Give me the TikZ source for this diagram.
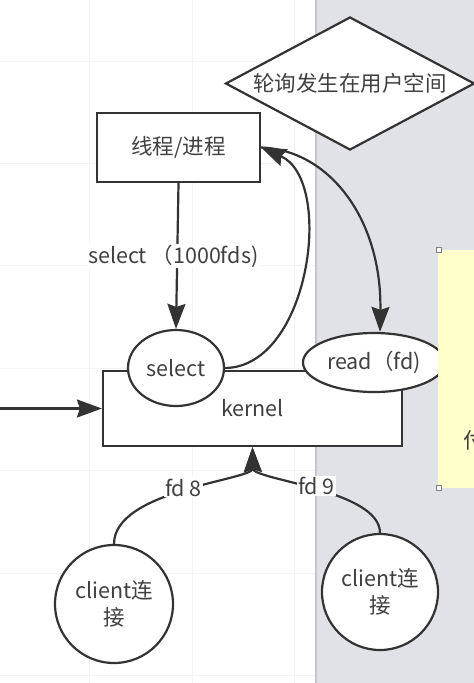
\documentclass[tikz,border=0pt]{standalone}
\usepackage{fontspec}
\setmainfont{Noto Sans CJK SC}
\usepackage{xcolor}
\usepackage{tikz}
\usetikzlibrary{shapes, shapes.geometric, arrows.meta, positioning}
\definecolor{inkgray}{RGB}{51,51,51}
\definecolor{textgray}{RGB}{64,64,64}
\definecolor{userspace}{RGB}{225,226,231}
\definecolor{notepaper}{RGB}{255,255,204}
\definecolor{gridline}{RGB}{244,244,244}

\begin{document}
\begin{tikzpicture}[x=1pt, y=-1pt,
  every node/.style={font=\fontsize{21.5}{27}\selectfont, text=textgray},
  box/.style={draw=inkgray, line width=2.2pt, fill=white},
  oval/.style={box, ellipse, inner sep=0pt},
  lbl/.style={fill=white, inner sep=1pt},
  conn/.style={draw=inkgray, line width=2.2pt, -{Stealth[length=25pt,width=18pt,inset=3pt]}}]
  \useasboundingbox (0,0) rectangle (474,683);
  \fill[white] (0,0) rectangle (474,683);
  \foreach \x in {89,192,294} {\draw[gridline] (\x,0) -- (\x,683);}
  \foreach \y in {61,163,265,368,470,573,675} {\draw[gridline] (0,\y) -- (315,\y);}
  \fill[userspace] (315,0) rectangle (474,683);
  \draw[userspace!88!black, line width=2pt] (316,0) -- (316,683);

  \node[box, diamond, aspect=1.87, inner sep=0pt, minimum width=249pt, minimum height=133pt] (poll) at (350,83.5) {轮询发生在用户空间};
  \node[box, minimum width=163pt, minimum height=69pt] (thread) at (178.5,147.5) {线程/进程};
  \node[box, minimum width=299pt, minimum height=75pt] (kern) at (252.5,408.5) {kernel};
  \node[oval, minimum width=96pt, minimum height=76pt] (sel) at (176,368) {select};
  \node[oval, minimum width=142pt, minimum height=59pt] (rd) at (374,362.5) {read（fd)};
  \node[box, circle, minimum size=118pt, inner sep=0pt, align=center] (cli8) at (114,604) {client连\\接};
  \node[box, circle, minimum size=116pt, inner sep=0pt, align=center] (cli9) at (380,592) {client连\\接};

  \coordinate (feed) at (0,408.5);
  \draw[conn] (feed) -- (kern.west);
  \draw[conn] (thread.south) -- (sel.north) node[lbl, midway, xshift=-4pt] (sellbl) {select （1000fds)};
  \draw[conn] (sel.east) .. controls (310,367) and (335,180) .. (thread.east);
  \draw[conn] (thread.east) .. controls (330,150) and (382,220) .. ([xshift=6pt]rd.north);
  \draw[conn] (cli8.north) .. controls (114,490) and (253,480) .. (kern.south) node[lbl, pos=0.5] (fd8) {fd 8};
  \draw[conn] (cli9.north) .. controls (380,490) and (253,480) .. (kern.south) node[lbl, pos=0.5] (fd9) {fd 9};

  \fill[notepaper] (438,250) rectangle (480,488);
  \node[anchor=west, inner sep=0pt] (notech) at (463,440) {付};
  \foreach \y in {250,488} {\filldraw[fill=white, draw=gray, line width=0.6pt] (436,\y-2.5) rectangle (441,\y+2.5);}
\end{tikzpicture}
\end{document}
